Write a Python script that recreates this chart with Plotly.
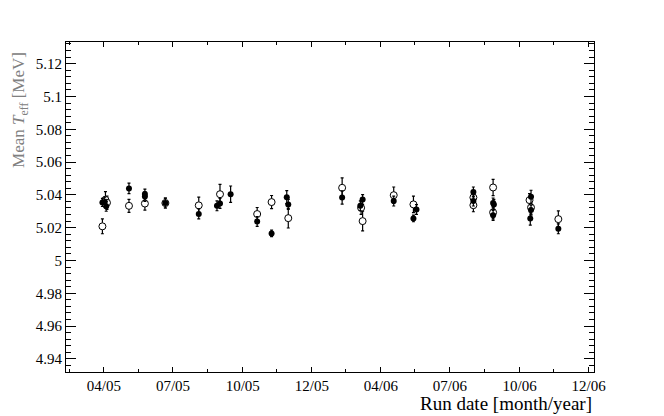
import plotly.graph_objects as go

# filled markers (first sample)
filled_date = ['2005-03-30', '2005-04-02', '2005-04-04', '2005-05-04', '2005-05-25',
               '2005-05-25', '2005-06-21', '2005-08-04', '2005-08-28', '2005-09-01',
               '2005-09-15', '2005-10-20', '2005-11-08', '2005-11-28', '2005-11-30',
               '2006-02-09', '2006-03-05', '2006-03-08', '2006-04-18', '2006-05-14',
               '2006-05-18', '2006-08-01', '2006-08-01', '2006-08-27', '2006-08-28',
               '2006-08-27', '2006-10-16', '2006-10-16', '2006-10-15', '2006-11-21']
filled_mean = [5.0354, 5.0356, 5.0330, 5.0439, 5.0405,
               5.0390, 5.0350, 5.0284, 5.0333, 5.0348,
               5.0404, 5.0238, 5.0165, 5.0386, 5.0342,
               5.0384, 5.0333, 5.0372, 5.0362, 5.0256,
               5.0311, 5.0418, 5.0362, 5.0351, 5.0342,
               5.0275, 5.0388, 5.0307, 5.0256, 5.0193]
filled_err = [0.0025, 0.003, 0.003, 0.0032, 0.003,
              0.003, 0.003, 0.003, 0.003, 0.003,
              0.005, 0.003, 0.002, 0.004, 0.003,
              0.004, 0.003, 0.003, 0.003, 0.002,
              0.003, 0.003, 0.003, 0.003, 0.003,
              0.003, 0.004, 0.003, 0.004, 0.003]

# open markers (second sample)
open_date = ['2005-03-30', '2005-04-03', '2005-04-05', '2005-05-04', '2005-05-25',
             '2005-06-21', '2005-08-04', '2005-09-01', '2005-10-20', '2005-11-08',
             '2005-11-30', '2006-02-09', '2006-03-06', '2006-03-08', '2006-04-18',
             '2006-05-14', '2006-08-01', '2006-08-01', '2006-08-27', '2006-08-27',
             '2006-10-14', '2006-10-16', '2006-11-21']
open_mean = [5.0208, 5.0370, 5.0352, 5.0333, 5.0347,
             5.0350, 5.0336, 5.0404, 5.0283, 5.0356,
             5.0258, 5.0443, 5.0321, 5.0240, 5.0398,
             5.0342, 5.0384, 5.0337, 5.0445, 5.0293,
             5.0368, 5.0323, 5.0252]
open_err = [0.0045, 0.005, 0.004, 0.004, 0.004,
            0.003, 0.005, 0.006, 0.004, 0.004,
            0.006, 0.006, 0.004, 0.006, 0.005,
            0.005, 0.004, 0.004, 0.005, 0.004,
            0.004, 0.004, 0.005]

x_ticks = ['2005-04-01', '2005-07-01', '2005-10-01', '2005-12-31',
           '2006-04-01', '2006-07-01', '2006-10-01', '2006-12-31']
x_labels = ['04/05', '07/05', '10/05', '12/05', '04/06', '07/06', '10/06', '12/06']
x_minor = ['2005-02-14', '2005-05-16', '2005-08-16', '2005-11-15',
           '2006-02-14', '2006-05-16', '2006-08-16', '2006-11-15']
y_ticks = [4.94, 4.96, 4.98, 5.0, 5.02, 5.04, 5.06, 5.08, 5.1, 5.12]
y_labels = ['4.94', '4.96', '4.98', '5', '5.02', '5.04', '5.06', '5.08', '5.1', '5.12']

font = 'Liberation Serif'

fig = go.Figure()
fig.add_trace(go.Scatter(
    x=open_date, y=open_mean, mode='markers',
    error_y=dict(type='data', array=open_err, color='black', thickness=1.2, width=1.5),
    marker=dict(symbol='circle', size=7, color='white', line=dict(color='black', width=1)),
    showlegend=False))
fig.add_trace(go.Scatter(
    x=filled_date, y=filled_mean, mode='markers',
    error_y=dict(type='data', array=filled_err, color='black', thickness=1.2, width=1.5),
    marker=dict(symbol='circle', size=6, color='black'),
    showlegend=False))

fig.update_xaxes(
    type='date', range=['2005-02-10', '2007-01-07'],
    tickvals=x_ticks, ticktext=x_labels,
    ticks='inside', ticklen=5, tickwidth=1, tickcolor='black',
    minor=dict(tickvals=x_minor, ticks='inside', ticklen=2.5, tickcolor='black'),
    showline=True, linecolor='black', linewidth=1.2, mirror='allticks',
    showgrid=False, zeroline=False,
    tickfont=dict(family=font, size=15, color='black'))
fig.update_yaxes(
    range=[4.932, 5.1332],
    tickvals=y_ticks, ticktext=y_labels,
    ticks='inside', ticklen=10, tickwidth=1, tickcolor='black',
    minor=dict(dtick=0.004, tick0=4.94, ticks='inside', ticklen=5, tickcolor='black'),
    showline=True, linecolor='black', linewidth=1.2, mirror='allticks',
    showgrid=False, zeroline=False,
    tickfont=dict(family=font, size=15, color='black'))

fig.add_annotation(text='Mean <i>T</i><sub>eff</sub> [MeV]', textangle=-90,
                   xref='paper', yref='paper', x=-0.087, y=0.976,
                   xanchor='center', yanchor='top', showarrow=False,
                   font=dict(family=font, size=17, color='#808080'))
fig.add_annotation(text='Run date [month/year]',
                   xref='paper', yref='paper', x=1.0, y=-0.095,
                   xanchor='right', yanchor='middle', showarrow=False,
                   font=dict(family=font, size=19, color='black'))

# the page puts the figure 8px in from the corner, so size it to fit the window
fig.update_layout(width=656, height=408,
                  margin=dict(l=58, r=70, t=34, b=44),
                  paper_bgcolor='white', plot_bgcolor='white')

fig.write_html("out.html")
